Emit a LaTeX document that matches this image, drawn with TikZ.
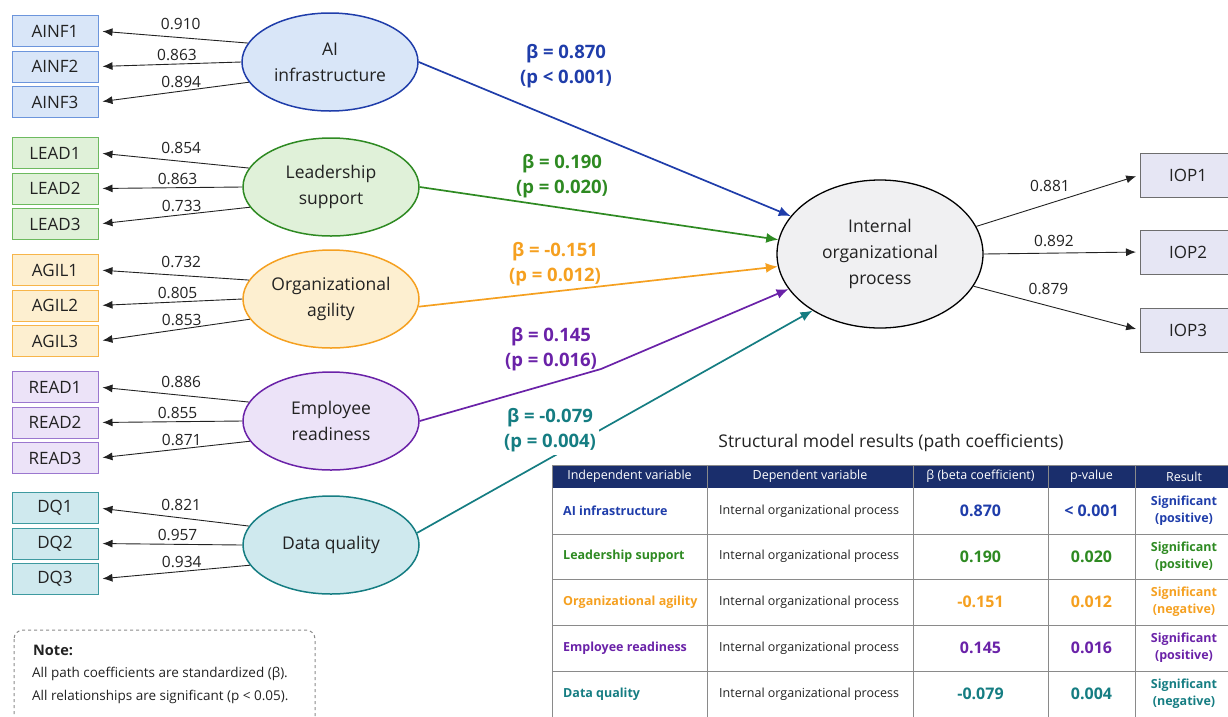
\documentclass[tikz,border=0pt]{standalone}
\usepackage{fontspec}
\setmainfont{Open Sans}
\usetikzlibrary{arrows.meta,shapes.geometric,positioning}
\definecolor{aiblue}{HTML}{1F3DAA}
\definecolor{aifill}{HTML}{D9E6F8}
\definecolor{aibox}{HTML}{6C95DC}
\definecolor{ldgreen}{HTML}{2E8A22}
\definecolor{ldfill}{HTML}{E0F1D9}
\definecolor{ldbox}{HTML}{6DBA5F}
\definecolor{agorange}{HTML}{F5A020}
\definecolor{agfill}{HTML}{FDEFD0}
\definecolor{agbox}{HTML}{F7B54A}
\definecolor{rdpurple}{HTML}{6A22A8}
\definecolor{rdfill}{HTML}{ECE3F8}
\definecolor{rdbox}{HTML}{9B77CF}
\definecolor{dqteal}{HTML}{157D82}
\definecolor{dqfill}{HTML}{CFE9EE}
\definecolor{dqbox}{HTML}{3E9AA0}
\definecolor{iopfill}{HTML}{F0F0F2}
\definecolor{iopbox}{HTML}{E6E6F4}
\definecolor{hdrnavy}{HTML}{1A2E6C}
\definecolor{gridc}{HTML}{8A8A8A}
\definecolor{txt}{HTML}{222222}
\tikzset{
    ind/.style = {draw, rectangle, line width=1pt,
        minimum height=31pt, minimum width=86pt, inner sep=0pt,
        font=\fontsize{17}{20}\selectfont, text=txt},
    lat/.style = {draw, ellipse, line width=1.5pt, align=center,
        minimum width=176pt, minimum height=98pt, inner sep=0pt,
        font=\fontsize{17.5}{26}\selectfont, text=txt},
    load/.style = {draw, -{Latex[length=10pt,width=8pt]}, line width=0.9pt, shorten >=4pt, txt},
    struct/.style = {draw, -{Latex[length=12pt,width=10pt]}, line width=1.7pt},
    wt/.style = {font=\fontsize{15.5}{18}\selectfont, text=txt, inner sep=1pt},
    blab/.style = {font=\bfseries\fontsize{18.5}{25}\selectfont, align=center, inner sep=1pt},
    hdr/.style = {font=\fontsize{12.5}{15}\selectfont, text=white, inner sep=0pt},
    cell/.style = {font=\fontsize{12.5}{15}\selectfont, text=txt, anchor=west, inner sep=0pt},
    lead/.style = {font=\bfseries\fontsize{12.5}{15}\selectfont, anchor=west, inner sep=0pt},
    num/.style = {font=\bfseries\fontsize{16}{18}\selectfont, inner sep=0pt},
    res/.style = {font=\bfseries\fontsize{12.5}{17}\selectfont, align=center, inner sep=0pt}
}

\begin{document}
\begin{tikzpicture}[x=1pt, y=-1pt]
    \useasboundingbox (0,0) rectangle (1228,716);
    % latent variables
    \node [lat, draw=aiblue, fill=aifill] (ai) at (330,62) {AI\\infrastructure};
    \node [lat, draw=ldgreen, fill=ldfill] (ld) at (331,187) {Leadership\\support};
    \node [lat, draw=agorange, fill=agfill] (ag) at (331,299) {Organizational\\agility};
    \node [lat, draw=rdpurple, fill=rdfill] (rd) at (331,421) {Employee\\readiness};
    \node [lat, draw=dqteal, fill=dqfill] (dq) at (331,545) {Data quality};
    \node [lat, draw=black, line width=1.3pt, fill=iopfill, minimum width=206pt, minimum height=148pt] (iop) at (880,254) {Internal\\organizational\\process};

    % indicators
    \node [ind, draw=aibox, fill=aifill] (ainf1) at (55,31) {AINF1};
    \node [ind, draw=aibox, fill=aifill, below=3.5pt of ainf1] (ainf2) {AINF2};
    \node [ind, draw=aibox, fill=aifill, below=3.5pt of ainf2] (ainf3) {AINF3};
    \node [ind, draw=ldbox, fill=ldfill] (lead1) at (55,153) {LEAD1};
    \node [ind, draw=ldbox, fill=ldfill, below=3.5pt of lead1] (lead2) {LEAD2};
    \node [ind, draw=ldbox, fill=ldfill, below=3.5pt of lead2] (lead3) {LEAD3};
    \node [ind, draw=agbox, fill=agfill] (agil1) at (55,270) {AGIL1};
    \node [ind, draw=agbox, fill=agfill, below=3.5pt of agil1] (agil2) {AGIL2};
    \node [ind, draw=agbox, fill=agfill, below=3.5pt of agil2] (agil3) {AGIL3};
    \node [ind, draw=rdbox, fill=rdfill] (read1) at (55,387) {READ1};
    \node [ind, draw=rdbox, fill=rdfill, below=3.5pt of read1] (read2) {READ2};
    \node [ind, draw=rdbox, fill=rdfill, below=3.5pt of read2] (read3) {READ3};
    \node [ind, draw=dqbox, fill=dqfill] (dq1) at (55,508) {DQ1};
    \node [ind, draw=dqbox, fill=dqfill, below=3.5pt of dq1] (dq2) {DQ2};
    \node [ind, draw=dqbox, fill=dqfill, below=3.5pt of dq2] (dq3) {DQ3};
    \node [ind, draw=gridc!80!black, fill=iopbox, minimum width=95pt, minimum height=44pt] (iop1) at (1188,175) {IOP1};
    \node [ind, draw=gridc!80!black, fill=iopbox, minimum width=95pt, minimum height=44pt] (iop2) at (1188,252) {IOP2};
    \node [ind, draw=gridc!80!black, fill=iopbox, minimum width=95pt, minimum height=44pt] (iop3) at (1188,330) {IOP3};

    % loadings
    \draw [load] (ai.167) -- node [wt, above=6pt, pos=.45] {0.910} (ainf1.east);
    \draw [load] (ai.180) -- node [wt, above=2pt, pos=.45] {0.863} (ainf2.east);
    \draw [load] (ai.194) -- node [wt, above=2pt, pos=.45] {0.894} (ainf3.east);
    \draw [load] (ld.167) -- node [wt, above=6pt, pos=.45] {0.854} (lead1.east);
    \draw [load] (ld.180) -- node [wt, above=2pt, pos=.45] {0.863} (lead2.east);
    \draw [load] (ld.194) -- node [wt, above=2pt, pos=.45] {0.733} (lead3.east);
    \draw [load] (ag.167) -- node [wt, above=6pt, pos=.45] {0.732} (agil1.east);
    \draw [load] (ag.180) -- node [wt, above=2pt, pos=.45] {0.805} (agil2.east);
    \draw [load] (ag.194) -- node [wt, above=2pt, pos=.45] {0.853} (agil3.east);
    \draw [load] (rd.167) -- node [wt, above=6pt, pos=.45] {0.886} (read1.east);
    \draw [load] (rd.180) -- node [wt, above=2pt, pos=.45] {0.855} (read2.east);
    \draw [load] (rd.194) -- node [wt, above=2pt, pos=.45] {0.871} (read3.east);
    \draw [load] (dq.167) -- node [wt, above=6pt, pos=.45] {0.821} (dq1.east);
    \draw [load] (dq.180) -- node [wt, above=2pt, pos=.45] {0.957} (dq2.east);
    \draw [load] (dq.194) -- node [wt, above=2pt, pos=.45] {0.934} (dq3.east);
    \draw [load] (iop.16) -- node [wt, above=10pt, pos=.45] {0.881} (iop1.west);
    \draw [load] (iop.east) -- node [wt, above=5pt, pos=.45] {0.892} (iop2.west);
    \draw [load] (iop.341) -- node [wt, above=10pt, pos=.45] {0.879} (iop3.west);

    % structural paths
    \coordinate (rdkink) at (601,369);
    \draw [struct, aiblue] (ai.east) -- (iop.157);
    \draw [struct, ldgreen] (ld.east) -- (iop.172);
    \draw [struct, agorange] (ag.355) -- (iop.187);
    \draw [struct, rdpurple] (rd.east) -- (rdkink) -- (iop.201);
    \draw [struct, dqteal] (dq.8) -- (iop.220);
    \node [blab, text=aiblue] (bai) at (566,66) {β = 0.870\\(p < 0.001)};
    \node [blab, text=ldgreen] (bld) at (562,176) {β = 0.190\\(p = 0.020)};
    \node [blab, text=agorange] (bag) at (555,264) {β = -0.151\\(p = 0.012)};
    \node [blab, text=rdpurple] (brd) at (551,349) {β = 0.145\\(p = 0.016)};
    \node [blab, text=dqteal, fill=white, inner sep=3pt] (bdq) at (550,430) {β = -0.079\\(p = 0.004)};

    % results table
    \node [font=\fontsize{17.5}{20}\selectfont, text=txt] (ttl) at (891,443) {Structural model results (path coefficients)};
    \fill [hdrnavy] (552,465) rectangle (1232,488);
    \draw [gridc, line width=1pt] (552,465) rectangle (1232,722);
    \draw [gridc, line width=1pt] (552,534) -- (1232,534) (552,579) -- (1232,579)
        (552,625) -- (1232,625) (552,671) -- (1232,671);
    \draw [gridc, line width=1pt] (707,465) -- (707,722) (913,465) -- (913,722)
        (1048,465) -- (1048,722) (1135,465) -- (1135,722);
    \node [hdr] (h1) at (629.5,476.5) {Independent variable};
    \node [hdr] (h2) at (810,476.5) {Dependent variable};
    \node [hdr] (h3) at (980.5,476.5) {β (beta coefficient)};
    \node [hdr] (h4) at (1091.5,476.5) {p-value};
    \node [hdr] (h5) at (1184,476.5) {Result};

    \node [lead, text=aiblue] (iv1) at (563,511) {AI infrastructure};
    \node [cell] (dv1) at (719,511) {Internal organizational process};
    \node [num, text=aiblue] (be1) at (980.5,511) {0.870};
    \node [num, text=aiblue] (pv1) at (1091.5,511) {< 0.001};
    \node [res, text=aiblue] (rs1) at (1184,511) {Significant\\(positive)};

    \node [lead, text=ldgreen] (iv2) at (563,556.5) {Leadership support};
    \node [cell] (dv2) at (719,556.5) {Internal organizational process};
    \node [num, text=ldgreen] (be2) at (980.5,556.5) {0.190};
    \node [num, text=ldgreen] (pv2) at (1091.5,556.5) {0.020};
    \node [res, text=ldgreen] (rs2) at (1184,556.5) {Significant\\(positive)};

    \node [lead, text=agorange] (iv3) at (563,602) {Organizational agility};
    \node [cell] (dv3) at (719,602) {Internal organizational process};
    \node [num, text=agorange] (be3) at (980.5,602) {-0.151};
    \node [num, text=agorange] (pv3) at (1091.5,602) {0.012};
    \node [res, text=agorange] (rs3) at (1184,602) {Significant\\(negative)};

    \node [lead, text=rdpurple] (iv4) at (563,648) {Employee readiness};
    \node [cell] (dv4) at (719,648) {Internal organizational process};
    \node [num, text=rdpurple] (be4) at (980.5,648) {0.145};
    \node [num, text=rdpurple] (pv4) at (1091.5,648) {0.016};
    \node [res, text=rdpurple] (rs4) at (1184,648) {Significant\\(positive)};

    \node [lead, text=dqteal] (iv5) at (563,694) {Data quality};
    \node [cell] (dv5) at (719,694) {Internal organizational process};
    \node [num, text=dqteal] (be5) at (980.5,694) {-0.079};
    \node [num, text=dqteal] (pv5) at (1091.5,694) {0.004};
    \node [res, text=dqteal] (rs5) at (1184,694) {Significant\\(negative)};

    % note
    \draw [gridc, dashed, line width=1pt, rounded corners=9pt] (14,630) rectangle (315,735);
    \node [font=\bfseries\fontsize{14.5}{17}\selectfont, text=txt, anchor=west, inner sep=0pt] (nhd) at (33,650) {Note:};
    \node [cell, font=\fontsize{13.5}{16}\selectfont] (nl1) at (32,674) {All path coefficients are standardized (β).};
    \node [cell, font=\fontsize{13.5}{16}\selectfont] (nl2) at (32,697) {All relationships are significant (p < 0.05).};
\end{tikzpicture}
\end{document}
